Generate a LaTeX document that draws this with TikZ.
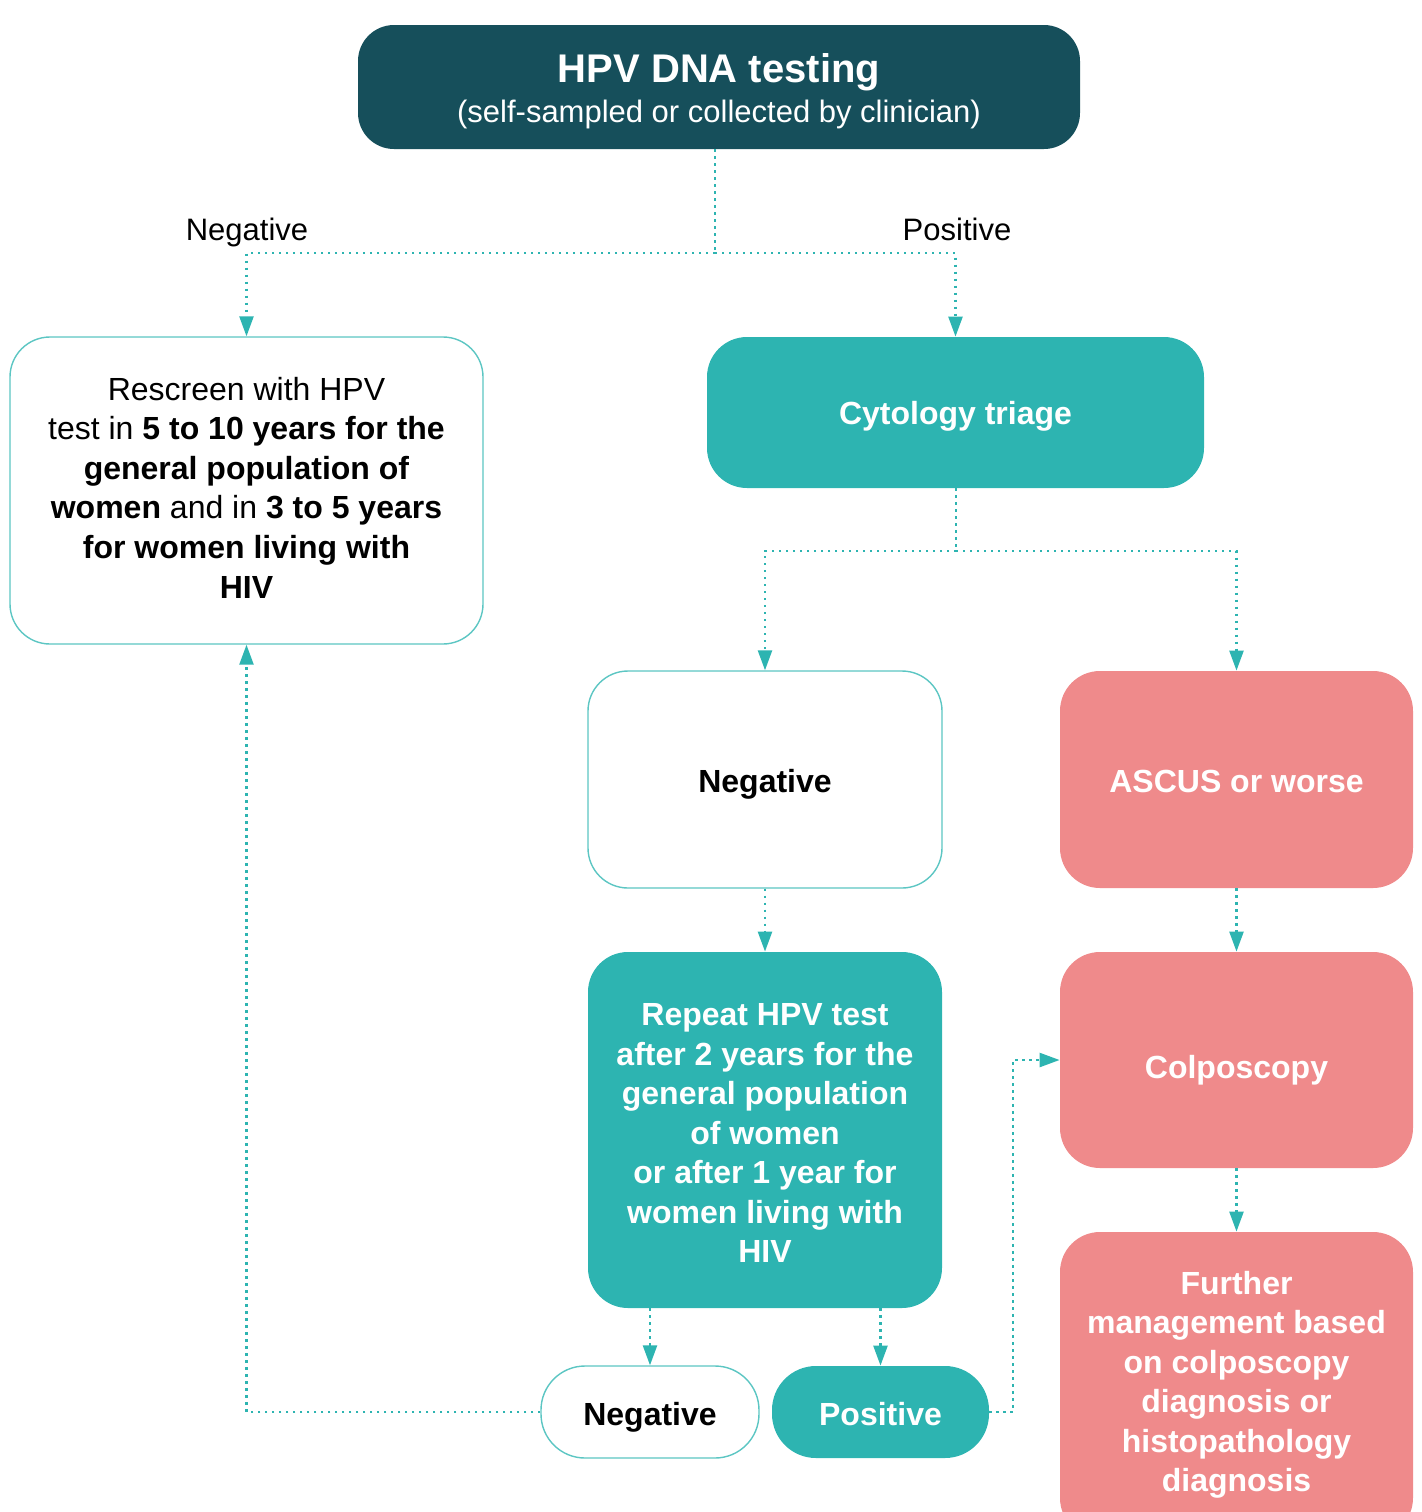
\documentclass[tikz,border=0pt]{standalone}
\usepackage{fontspec}
\setmainfont{Liberation Sans}
\usetikzlibrary{arrows.meta}
\definecolor{darkteal}{HTML}{164F5B}
\definecolor{teal2}{HTML}{2DB4B1}
\definecolor{salmon}{HTML}{EF8A8B}
\definecolor{edgeteal}{HTML}{5CC6C3}
\newcommand\lowtext[2]{\raisebox{-#1}[0pt][0pt]{#2}}
\tikzset{
  box/.style={rectangle, rounded corners=20pt, inner sep=0pt, text=white,
    font=\fontsize{16}{19.75}\selectfont\bfseries},
  whitebox/.style={box, draw=edgeteal, line width=0.7pt, fill=white, text=black},
  tealbox/.style={box, fill=teal2},
  redbox/.style={box, fill=salmon},
  boxtext/.style={align=center, inner sep=0pt, text=white, font=\fontsize{16}{19.75}\selectfont\bfseries},
  conn/.style={teal2, line width=1.2pt, dash pattern=on 1.2pt off 2.3pt,
    -{Triangle[width=7pt,length=10pt]}},
  connplain/.style={teal2, line width=1.2pt, dash pattern=on 1.2pt off 2.3pt},
  lbl/.style={font=\fontsize{15.5}{19}\selectfont, text=black, inner sep=0pt}
}
\begin{document}
\begin{tikzpicture}[x=0.5pt,y=-0.5pt]
\useasboundingbox (0,0) rectangle (1422,1512);
\begin{scope}
\clip (0,0) rectangle (1422,1512);
\node[box, fill=darkteal, minimum width=361pt, minimum height=62pt, rounded corners=18pt] (top) at (719,87) {};
\node[whitebox, minimum width=236.5pt, minimum height=153.5pt] (left) at (246.5,490.5) {};
\node[tealbox, minimum width=248.5pt, minimum height=75.5pt] (cyt) at (955.5,412.5) {\lowtext{6pt}{Cytology triage}};
\node[whitebox, minimum width=177pt, minimum height=108.5pt] (neg1) at (765,779.5) {\lowtext{6.5pt}{Negative}};
\node[redbox, minimum width=176.5pt, minimum height=108.5pt] (asc) at (1236.5,779.5) {\lowtext{6.5pt}{ASCUS or worse}};
\node[tealbox, minimum width=177pt, minimum height=178pt] (rep) at (765,1130) {};
\node[redbox, minimum width=176.5pt, minimum height=108pt] (col) at (1236.5,1060) {\lowtext{9.25pt}{Colposcopy}};
\node[redbox, align=center, minimum width=176.5pt, minimum height=153pt] (fur) at (1236.5,1385)
  {Further\\ management based\\ on colposcopy\\ diagnosis or\\ histopathology\\ diagnosis};
\node[whitebox, minimum width=109pt, minimum height=46pt, rounded corners=22pt] (nneg) at (650,1412) {\lowtext{6.75pt}{Negative}};
\node[tealbox, minimum width=108.5pt, minimum height=46pt, rounded corners=22pt] (npos) at (880.5,1412) {\lowtext{6.75pt}{Positive}};
\end{scope}
\node[boxtext, font=\fontsize{20}{20}\selectfont\bfseries] (toptext) at (719,91)
  {HPV DNA testing\\ {\fontsize{15.5}{19}\selectfont\mdseries (self-sampled or collected by clinician)}};
\node[boxtext, text=black, font=\fontsize{16}{19.8}\selectfont] (lefttext) at (246.5,487.5)
  {Rescreen with HPV\\ test in \textbf{5 to 10 years for the}\\ \textbf{general population of}\\ \textbf{women} and in \textbf{3 to 5 years}\\ \textbf{for women living with}\\ \textbf{HIV}};
\node[boxtext] (reptext) at (765,1133)
  {Repeat HPV test\\ after 2 years for the\\ general population\\ of women\\ or after 1 year for\\ women living with\\ HIV};
\coordinate (j1) at (715,253);
\coordinate (j2) at (956,551);
\coordinate (j3) at (1013,1412);
\node[lbl] (lneg) at (247,229) {\lowtext{5.5pt}{Negative}};
\node[lbl] (lpos) at (957,229) {\lowtext{5.5pt}{Positive}};
\draw[connplain] (top.south -| j1) -- (j1);
\draw[conn] (j1) -| (left.north);
\draw[conn] (j1) -| (cyt.north);
\draw[connplain] (cyt.south -| j2) -- (j2);
\draw[conn] (j2) -| (neg1.north);
\draw[conn] (j2) -| (asc.north);
\draw[conn] (neg1) -- (rep);
\draw[conn] (asc) -- (col);
\draw[conn] (col) -- (fur);
\draw[conn] (rep.south -| nneg.north) -- (nneg.north);
\draw[conn] (rep.south -| npos.north) -- (npos.north);
\draw[conn] (nneg.west) -| (left.south);
\draw[conn] (npos.east) -- (j3) |- (col.west);
\end{tikzpicture}
\end{document}
